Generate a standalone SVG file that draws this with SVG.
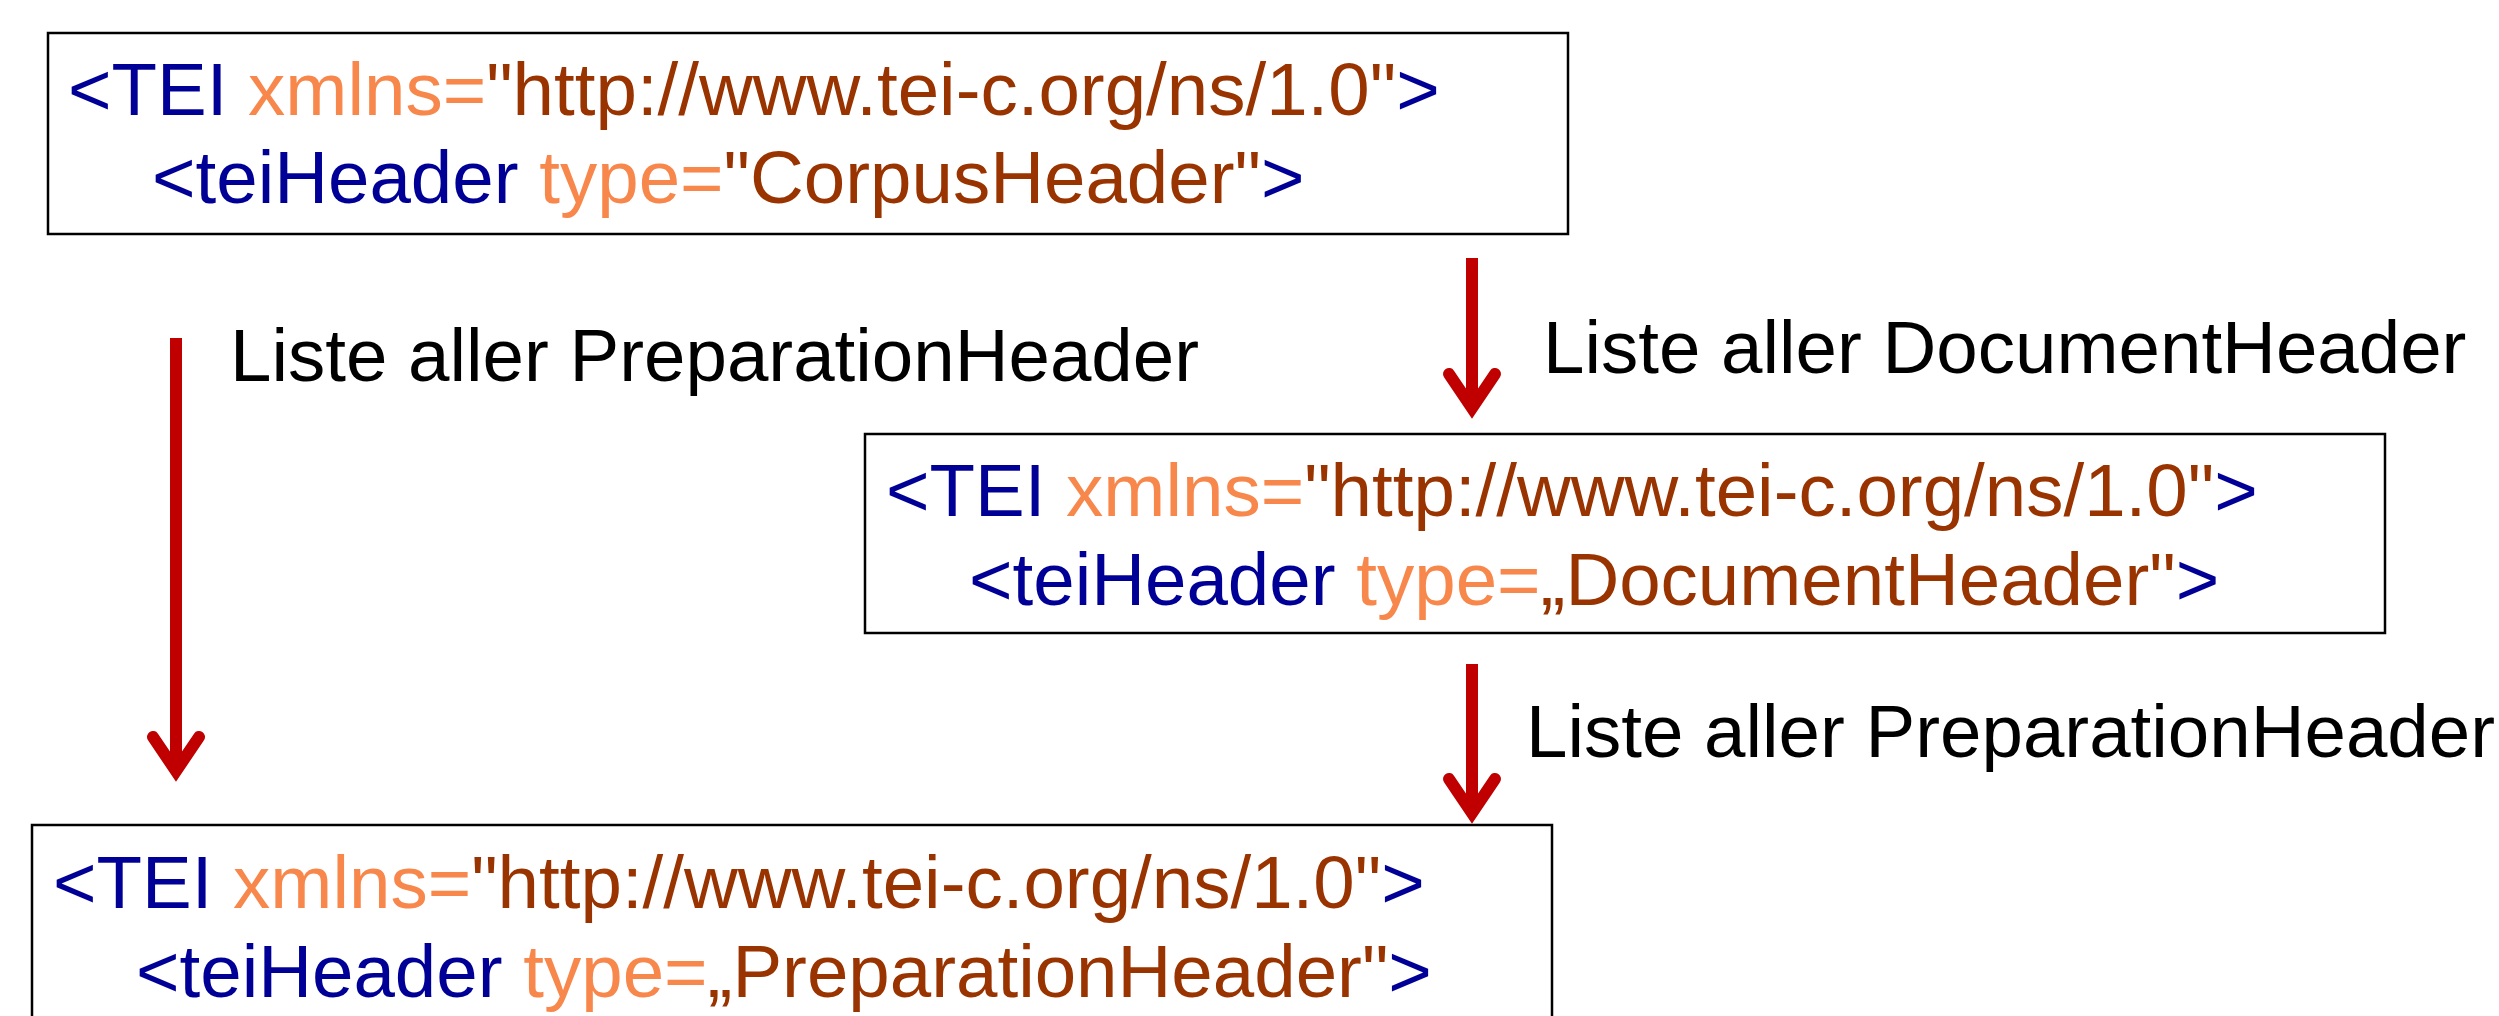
<svg xmlns="http://www.w3.org/2000/svg" width="2499" height="1016" viewBox="0 0 2499 1016">
<style>
  .box { fill: #FFFFFF; stroke: #000000; stroke-width: 2.5; }
  .code { font-family: "Liberation Sans", Arial, sans-serif; font-size: 74.5px; }
  .label { font-family: "Liberation Sans", Arial, sans-serif; font-size: 74.5px; fill: #000000; }
  .tag { fill: #000096; }
  .attr { fill: #F8874C; }
  .val { fill: #993300; }
  .shaft { stroke: #C00000; stroke-width: 12; fill: none; stroke-linecap: butt; }
</style>
<defs>
  <marker id="vhead" markerUnits="userSpaceOnUse" orient="auto" refX="0" refY="0" markerWidth="80" markerHeight="80" overflow="visible">
    <path d="M-34,-23 L0,0 L-34,23" fill="none" stroke="#C00000" stroke-width="12" stroke-linecap="round" stroke-linejoin="miter"/>
  </marker>
</defs>
<rect width="2499" height="1016" fill="#FFFFFF"/>

<g id="corpus-header">
  <rect class="box" x="48" y="33" width="1520" height="201"/>
  <text class="code" x="68" y="115"><tspan class="tag">&lt;TEI</tspan> <tspan class="attr">xmlns=</tspan><tspan class="val">"http://www.tei-c.org/ns/1.0"</tspan><tspan class="tag">&gt;</tspan></text>
  <text class="code" x="152" y="203"><tspan class="tag">&lt;teiHeader</tspan> <tspan class="attr">type=</tspan><tspan class="val">"CorpusHeader"</tspan><tspan class="tag">&gt;</tspan></text>
</g>

<g id="document-header">
  <rect class="box" x="865" y="434" width="1520" height="199"/>
  <text class="code" x="886" y="516"><tspan class="tag">&lt;TEI</tspan> <tspan class="attr">xmlns=</tspan><tspan class="val">"http://www.tei-c.org/ns/1.0"</tspan><tspan class="tag">&gt;</tspan></text>
  <text class="code" x="969" y="605"><tspan class="tag">&lt;teiHeader</tspan> <tspan class="attr">type=</tspan><tspan class="val">„DocumentHeader"</tspan><tspan class="tag">&gt;</tspan></text>
</g>

<g id="preparation-header">
  <rect class="box" x="32" y="825" width="1520" height="220"/>
  <text class="code" x="53" y="908"><tspan class="tag">&lt;TEI</tspan> <tspan class="attr">xmlns=</tspan><tspan class="val">"http://www.tei-c.org/ns/1.0"</tspan><tspan class="tag">&gt;</tspan></text>
  <text class="code" x="136" y="997"><tspan class="tag">&lt;teiHeader</tspan> <tspan class="attr">type=</tspan><tspan class="val">„PreparationHeader"</tspan><tspan class="tag">&gt;</tspan></text>
</g>

<g id="connectors">
  <line class="shaft" x1="176" y1="338" x2="176" y2="771" marker-end="url(#vhead)"/>
  <line class="shaft" x1="1472" y1="258" x2="1472" y2="408" marker-end="url(#vhead)"/>
  <line class="shaft" x1="1472" y1="664" x2="1472" y2="813" marker-end="url(#vhead)"/>
  <text class="label" x="230" y="381">Liste aller PreparationHeader</text>
  <text class="label" x="1543" y="373">Liste aller DocumentHeader</text>
  <text class="label" x="1526" y="757">Liste aller PreparationHeader</text>
</g>
</svg>
